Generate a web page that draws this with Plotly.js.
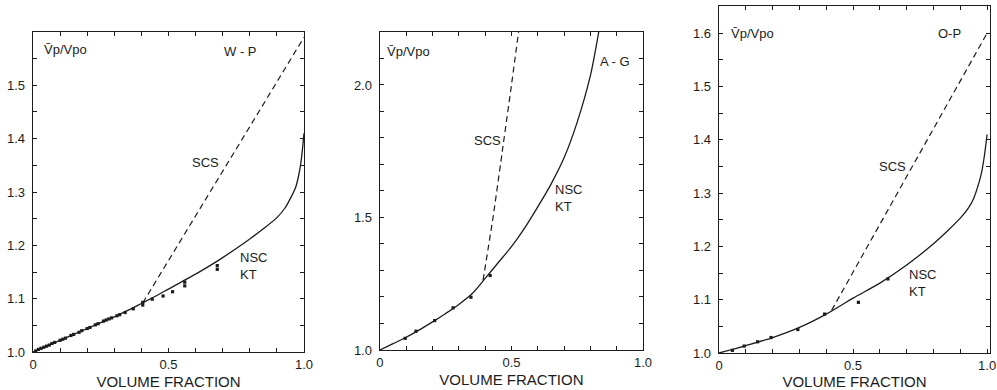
<!DOCTYPE html>
<html>
<head>
<meta charset="utf-8">
<script src="https://cdn.plot.ly/plotly-3.0.1.min.js"></script>
<style>html,body{margin:0;padding:0;background:#fff;}</style>
</head>
<body>
<div id="chart" style="width:997px;height:390px;"></div>
<script>
// ---- Panel 1: W-P ----
const wpCurveX = [0, 0.05, 0.1, 0.15, 0.2, 0.25, 0.3, 0.35, 0.4, 0.45, 0.5, 0.55, 0.6, 0.65, 0.7, 0.75, 0.8, 0.85, 0.9, 0.93, 0.95, 0.97, 0.98, 0.99, 1.0];
const wpCurveY = [1.0, 1.011, 1.022, 1.033, 1.044, 1.055, 1.066, 1.078, 1.091, 1.104, 1.118, 1.132, 1.146, 1.161, 1.177, 1.194, 1.212, 1.231, 1.252, 1.27, 1.288, 1.31, 1.33, 1.36, 1.41];
const wpScsX = [0.405, 1.0];
const wpScsY = [1.092, 1.59];
const wpPtsX = [0.01, 0.02, 0.03, 0.04, 0.05, 0.06, 0.07, 0.08, 0.1, 0.11, 0.12, 0.14, 0.15, 0.17, 0.18, 0.2, 0.21, 0.23, 0.24, 0.26, 0.27, 0.28, 0.29, 0.31, 0.32, 0.34, 0.37, 0.405, 0.405, 0.44, 0.48, 0.515, 0.56, 0.56, 0.68, 0.68];
const wpPtsY = [1.002, 1.005, 1.007, 1.009, 1.011, 1.013, 1.016, 1.018, 1.022, 1.024, 1.026, 1.031, 1.033, 1.037, 1.040, 1.044, 1.046, 1.051, 1.053, 1.058, 1.060, 1.062, 1.064, 1.068, 1.070, 1.074, 1.081, 1.088, 1.093, 1.099, 1.105, 1.113, 1.124, 1.131, 1.155, 1.162];

// ---- Panel 2: A-G ----
const agCurveX = [0, 0.05, 0.1, 0.15, 0.2, 0.25, 0.3, 0.35, 0.4, 0.45, 0.5, 0.55, 0.6, 0.65, 0.7, 0.75, 0.8, 0.83, 0.845];
const agCurveY = [1.0, 1.024, 1.048, 1.076, 1.106, 1.138, 1.172, 1.212, 1.27, 1.33, 1.39, 1.46, 1.54, 1.625, 1.725, 1.86, 2.035, 2.19, 2.28];
const agScsX = [0.392, 0.43, 0.468, 0.5, 0.527];
const agScsY = [1.263, 1.50, 1.77, 2.0, 2.2];
const agPtsX = [0.096, 0.137, 0.208, 0.278, 0.346, 0.419];
const agPtsY = [1.044, 1.071, 1.111, 1.159, 1.199, 1.281];

// ---- Panel 3: O-P ----
const opCurveX = [0, 0.1, 0.2, 0.3, 0.4, 0.5, 0.6, 0.7, 0.8, 0.85, 0.9, 0.93, 0.95, 0.97, 0.98, 0.99, 1.0];
const opCurveY = [1.0, 1.014, 1.029, 1.048, 1.073, 1.103, 1.131, 1.165, 1.205, 1.228, 1.253, 1.272, 1.29, 1.32, 1.34, 1.37, 1.41];
const opScsX = [0.42, 1.0];
const opScsY = [1.08, 1.6];
const opPtsX = [0.05, 0.094, 0.144, 0.194, 0.294, 0.394, 0.52, 0.63];
const opPtsY = [1.005, 1.013, 1.021, 1.029, 1.044, 1.073, 1.095, 1.139];

// ---- Tick labels ----
const xTickVals = [0, 0.1, 0.2, 0.3, 0.4, 0.5, 0.6, 0.7, 0.8, 0.9, 1.0];
const xTickText = ['0', '', '', '', '', '0.5', '', '', '', '', '1.0'];
const y1TickVals = [1.0, 1.05, 1.1, 1.15, 1.2, 1.25, 1.3, 1.35, 1.4, 1.45, 1.5, 1.55];
const y1TickText = ['1.0', '', '1.1', '', '1.2', '', '1.3', '', '1.4', '', '1.5', ''];
const y2TickVals = [1.0, 1.1, 1.2, 1.3, 1.4, 1.5, 1.6, 1.7, 1.8, 1.9, 2.0, 2.1];
const y2TickText = ['1.0', '', '', '', '', '1.5', '', '', '', '', '2.0', ''];
const y3TickVals = [1.0, 1.05, 1.1, 1.15, 1.2, 1.25, 1.3, 1.35, 1.4, 1.45, 1.5, 1.55, 1.6];
const y3TickText = ['1.0', '', '1.1', '', '1.2', '', '1.3', '', '1.4', '', '1.5', '', '1.6'];

const yLabel = 'V\u0304p/Vpo';
const xTitle = 'VOLUME FRACTION';

const ink = '#1c1c1c';
const FONT = 'Liberation Sans, Arial, sans-serif';

function solid(x, y, xa, ya) {
  return {x, y, xaxis: xa, yaxis: ya, mode: 'lines', type: 'scatter',
    line: {color: ink, width: 1.3, shape: 'spline', smoothing: 0.8}, hoverinfo: 'skip'};
}
function dashed(x, y, xa, ya) {
  return {x, y, xaxis: xa, yaxis: ya, mode: 'lines', type: 'scatter',
    line: {color: ink, width: 1.2, dash: '6px,4px', shape: 'spline', smoothing: 0.5}, hoverinfo: 'skip'};
}
function pts(x, y, xa, ya) {
  return {x, y, xaxis: xa, yaxis: ya, mode: 'markers', type: 'scatter',
    marker: {symbol: 'square', size: 3.2, color: ink}, hoverinfo: 'skip', cliponaxis: false};
}

const data = [
  solid(wpCurveX, wpCurveY, 'x', 'y'), dashed(wpScsX, wpScsY, 'x', 'y'), pts(wpPtsX, wpPtsY, 'x', 'y'),
  solid(agCurveX, agCurveY, 'x2', 'y2'), dashed(agScsX, agScsY, 'x2', 'y2'), pts(agPtsX, agPtsY, 'x2', 'y2'),
  solid(opCurveX, opCurveY, 'x3', 'y3'), dashed(opScsX, opScsY, 'x3', 'y3'), pts(opPtsX, opPtsY, 'x3', 'y3')
];

function xaxis(domain, range, anchor) {
  return {domain, range, anchor, tickvals: xTickVals, ticktext: xTickText,
    ticks: 'inside', ticklen: 4, tickwidth: 1, tickcolor: ink, mirror: 'ticks',
    showline: true, linecolor: ink, linewidth: 1.4, showgrid: false, zeroline: false,
    tickfont: {family: FONT, size: 13, color: ink}, automargin: false, fixedrange: true,
    title: {text: xTitle, font: {family: FONT, size: 15, color: ink}, standoff: 5}};
}
function yaxis(domain, range, anchor, tv, tt) {
  return {domain, range, anchor, tickvals: tv, ticktext: tt,
    ticks: 'inside', ticklen: 4, tickwidth: 1, tickcolor: ink, mirror: 'ticks',
    showline: true, linecolor: ink, linewidth: 1.4, showgrid: false, zeroline: false,
    tickfont: {family: FONT, size: 13, color: ink}, ticklabelstandoff: 4,
    automargin: false, fixedrange: true};
}

const txt = {family: FONT, size: 13, color: ink};
function ann(text, x, y, xr, yr, xanchor, align) {
  return {text, x, y, xref: xr, yref: yr, showarrow: false, xanchor: xanchor || 'center',
    yanchor: 'middle', align: align || 'left', font: txt};
}

const layout = {
  width: 997, height: 390,
  margin: {l: 0, r: 0, t: 0, b: 0},
  paper_bgcolor: '#fff', plot_bgcolor: '#fff',
  showlegend: false,
  xaxis: xaxis([0.0331, 0.3049], [0, 1.0], 'y'),
  yaxis: yaxis([0.0974, 0.918], [1.0, 1.6], 'x', y1TickVals, y1TickText),
  xaxis2: xaxis([0.3811, 0.6449], [0, 1.0], 'y2'),
  yaxis2: yaxis([0.1026, 0.918], [1.0, 2.2], 'x2', y2TickVals, y2TickText),
  xaxis3: xaxis([0.7212, 0.993], [0, 1.011], 'y3'),
  yaxis3: yaxis([0.0949, 0.9846], [1.0, 1.651], 'x3', y3TickVals, y3TickText),
  annotations: [
    ann(yLabel, 0.033, 1.567, 'x', 'y', 'left'),
    ann('W - P', 0.764, 1.563, 'x', 'y'),
    ann('SCS', 0.635, 1.355, 'x', 'y'),
    ann('NSC<br>KT', 0.756, 1.161, 'x', 'y', 'left'),
    ann(yLabel, 0.02, 2.125, 'x2', 'y2', 'left'),
    ann('A - G', 0.893, 2.087, 'x2', 'y2'),
    ann('SCS', 0.41, 1.79, 'x2', 'y2'),
    ann('NSC<br>KT', 0.658, 1.574, 'x2', 'y2', 'left'),
    ann(yLabel, 0.037, 1.6, 'x3', 'y3', 'left'),
    ann('O-P', 0.861, 1.6, 'x3', 'y3'),
    ann('SCS', 0.648, 1.349, 'x3', 'y3'),
    ann('NSC<br>KT', 0.70, 1.131, 'x3', 'y3', 'left')
  ]
};

Plotly.newPlot('chart', data, layout, {staticPlot: true, displayModeBar: false});
</script>
</body>
</html>
